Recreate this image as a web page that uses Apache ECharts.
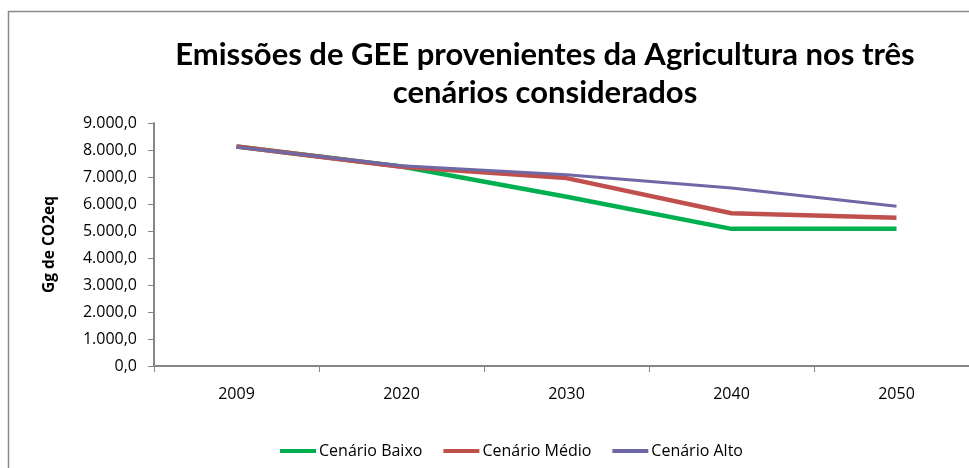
<!DOCTYPE html>
<html>
<head>
<meta charset="utf-8">
<script src="https://cdn.jsdelivr.net/npm/echarts@6/dist/echarts.min.js"></script>
<style>
  html, body { margin: 0; padding: 0; background: #fff; }
  #chart { width: 969px; height: 468px; }
</style>
</head>
<body>
<div id="chart"></div>
<script>
const anos = ["2009", "2020", "2030", "2040", "2050"];
const cenarioBaixo = [8130, 7390, 6270, 5080, 5080];
const cenarioMedio = [8130, 7380, 6960, 5660, 5490];
const cenarioAlto = [8110, 7420, 7080, 6590, 5920];
const nomes = ["Cenário Baixo", "Cenário Médio", "Cenário Alto"];
const cores = ["#00B050", "#C0504D", "#6F68A6"];

const fonte = "Lato, 'Open Sans', sans-serif";
const fonteEixo = "'Open Sans', sans-serif";

// 9000 -> "9.000,0"
function formatoBR(v) {
  const parts = v.toFixed(1).split(".");
  return parts[0].replace(/\B(?=(\d{3})+(?!\d))/g, ".") + "," + parts[1];
}

var myChart = echarts.init(document.getElementById("chart"));
const option = {
  animation: false,
  title: {
    text: "Emissões de GEE provenientes da Agricultura nos três\ncenários considerados",
    left: 540,
    textAlign: "center",
    top: 31,
    textStyle: {
      fontFamily: fonte,
      fontWeight: "bold",
      fontSize: 31,
      lineHeight: 38,
      color: "#000",
    },
  },
  graphic: [
    {
      type: "rect",
      shape: { x: 8.5, y: 11.5, width: 1200, height: 600 },
      style: { fill: "none", stroke: "#8a8a8a", lineWidth: 1.5 },
      silent: true,
    },
  ],
  legend: {
    bottom: 4,
    left: 275,
    itemGap: 21,
    itemWidth: 36,
    itemHeight: 4,
    icon: "rect",
    textStyle: { fontFamily: fonteEixo, fontSize: 16, color: "#000", padding: [0, 0, 0, -2] },
    data: nomes,
  },
  grid: { left: 154, top: 123, width: 825, height: 243, outerBoundsMode: "none" },
  xAxis: {
    type: "category",
    data: anos,
    boundaryGap: true,
    axisLine: { lineStyle: { color: "#868686", width: 2 } },
    axisTick: { show: true, length: 6, lineStyle: { color: "#868686", width: 1 } },
    axisLabel: { color: "#000", fontSize: 16, margin: 20, fontFamily: fonteEixo },
    splitLine: { show: false },
  },
  yAxis: {
    type: "value",
    min: 0,
    max: 9000,
    interval: 1000,
    name: "Gg de CO2eq",
    nameLocation: "middle",
    nameGap: 96,
    nameRotate: 90,
    nameTextStyle: { fontFamily: fonteEixo, fontWeight: "bold", fontSize: 15.5, color: "#000" },
    axisLine: { show: true, lineStyle: { color: "#868686", width: 2 } },
    axisTick: { show: true, length: 6, lineStyle: { color: "#868686", width: 1 } },
    axisLabel: {
      color: "#000",
      fontSize: 16,
      margin: 17,
      fontFamily: fonteEixo,
      formatter: formatoBR,
    },
    splitLine: { show: false },
  },
  series: [
    {
      name: nomes[0], type: "line", data: cenarioBaixo,
      showSymbol: false, symbol: "none",
      lineStyle: { color: cores[0], width: 4.5 }, itemStyle: { color: cores[0] },
      z: 2,
    },
    {
      name: nomes[1], type: "line", data: cenarioMedio,
      showSymbol: false, symbol: "none",
      lineStyle: { color: cores[1], width: 4.5 }, itemStyle: { color: cores[1] },
      z: 3,
    },
    {
      name: nomes[2], type: "line", data: cenarioAlto,
      showSymbol: false, symbol: "none",
      lineStyle: { color: cores[2], width: 3 }, itemStyle: { color: cores[2] },
      z: 4,
    },
  ],
};
myChart.setOption(option);
</script>
</body>
</html>
